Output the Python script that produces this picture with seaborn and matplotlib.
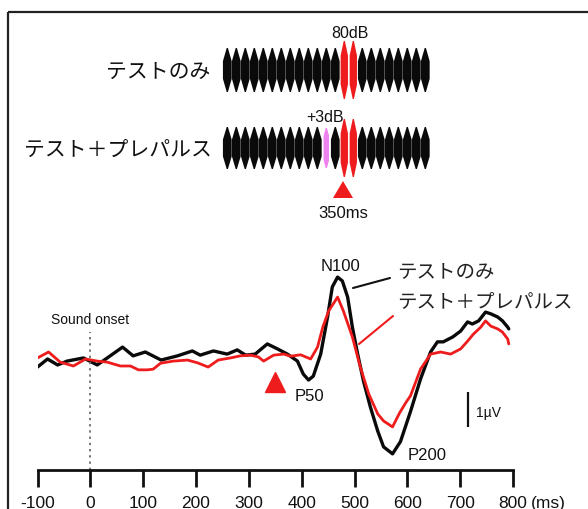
import numpy as np
import pandas as pd
import matplotlib
matplotlib.use("Agg")
import matplotlib.pyplot as plt
from matplotlib.patches import Polygon
import seaborn as sns

# ---------------- data ----------------
black_t = [-100, -81, -62, -44, -13, 13, 32, 61, 81, 104, 134, 165, 193, 208, 233, 259, 278, 294,
           312, 335, 354, 373, 392, 403, 413, 422, 436, 449, 458, 468, 477, 487, 496, 506, 517,
           530, 544, 555, 572, 587, 606, 625, 644, 657, 668, 686, 701, 714, 723, 735, 748, 758,
           771, 780, 790, 792]
black_v = [0.23, 0.0, 0.17, 0.06, -0.03, 0.17, -0.03, -0.34, -0.09, -0.2, 0.03, -0.09, -0.23, -0.11,
           -0.23, -0.14, -0.26, -0.11, -0.14, -0.43, -0.29, -0.14, 0.06, 0.43, 0.6, 0.49, -0.14,
           -1.2, -2.06, -2.34, -2.23, -1.77, -0.91, -0.14, 0.63, 1.37, 2.06, 2.51, 2.71, 2.36,
           1.5, 0.57, -0.2, -0.49, -0.49, -0.63, -0.8, -1.06, -1.0, -1.09, -1.34, -1.29, -1.2,
           -1.09, -0.91, -0.86]
red_t = [-100, -79, -57, -32, -9, 13, 32, 57, 76, 91, 108, 119, 133, 157, 184, 203, 223, 242, 265,
         284, 303, 318, 328, 347, 366, 379, 398, 417, 430, 440, 451, 468, 479, 496, 511, 527, 544,
         555, 572, 585, 597, 606, 625, 644, 663, 682, 701, 714, 725, 739, 748, 758, 771, 780, 790,
         792]
red_v = [-0.03, -0.2, 0.09, 0.2, 0.0, 0.06, 0.09, 0.2, 0.2, 0.31, 0.31, 0.29, 0.12, 0.06, 0.03,
         0.11, 0.23, 0.03, -0.03, -0.09, -0.11, -0.06, 0.06, -0.11, -0.14, -0.08, -0.12, 0.0,
         -0.34, -0.91, -1.37, -1.77, -1.37, -0.63, 0.23, 1.0, 1.57, 1.77, 1.94, 1.55, 1.25, 1.05,
         0.29, -0.14, -0.2, -0.14, -0.29, -0.51, -0.71, -0.91, -1.09, -0.94, -0.86, -0.77, -0.57,
         -0.43]
series_names = ["テストのみ", "テスト＋プレパルス"]
x_ticks = [-100, 0, 100, 200, 300, 400, 500, 600, 700, 800]
x_unit = "(ms)"
peak_labels = ["N100", "P50", "P200"]
pulse_count = 23
tone_idx = [13, 14]
prepulse_idx = 11
tone_label = "80dB"
prepulse_label = "+3dB"
onset_label = "Sound onset"
marker_label = "350ms"
marker_time = 350
scale_label = "1µV"

# ---------------- style ----------------
sns.set_theme(style="white")
plt.rcParams['font.family'] = ['Liberation Sans', 'Noto Sans CJK JP', 'DejaVu Sans']
JP = ['Noto Sans CJK JP', 'DejaVu Sans']
RED = '#ee1c1c'
BLACK = '#0a0a0a'

W, H = 588, 510
fig = plt.figure(figsize=(W / 100, H / 100), dpi=100)
fig.patch.set_facecolor('white')

# overlay axes in pixel coordinates
ov = fig.add_axes([0, 0, 1, 1])
ov.set_xlim(0, W)
ov.set_ylim(H, 0)
ov.axis('off')

# frame
ov.plot([8, W + 5], [13, 13], color='#222222', lw=1.6, solid_capstyle='butt')
ov.plot([8, 8], [13, H + 5], color='#222222', lw=1.6, solid_capstyle='butt')

# ---------------- stimulus diagram ----------------
x0, sp = 227.3, 9.0


def pulse(cx, cy, hh, hw, color, taper=0.6):
    ys = np.linspace(-1, 1, 61)
    prof = hw * np.clip((1 - np.abs(ys)) / taper, 0, 1) + 0.6
    xs = np.concatenate([cx + prof, (cx - prof)[::-1]])
    yy = np.concatenate([cy + ys * hh, (cy + ys * hh)[::-1]])
    ov.add_patch(Polygon(np.column_stack([xs, yy]), closed=True, facecolor=color,
                         edgecolor='none'))


for row, cy in enumerate([71, 149]):
    for k in range(pulse_count):
        cx = x0 + k * sp
        if k in tone_idx:
            pulse(cx, cy, 29, 0.34 * sp, RED, taper=0.5)
        elif row == 1 and k == prepulse_idx:
            pulse(cx, cy, 20, 0.24 * sp, '#ee82ee', taper=0.4)
        else:
            pulse(cx, cy, 22 if row == 0 else 21, 0.42 * sp, BLACK)

ov.text(210, 72, series_names[0], fontsize=15, family=JP, ha='right', va='center', color='#111')
ov.text(212, 150, series_names[1], fontsize=15, family=JP, ha='right', va='center', color='#111')
ov.text(350, 33, tone_label, fontsize=11.5, ha='center', va='center', color='#111')
ov.text(325, 117, prepulse_label, fontsize=11.5, ha='center', va='center', color='#111')
ov.add_patch(Polygon([[333, 199], [353, 199], [343, 182]], closed=True, facecolor=RED,
                     edgecolor='none'))
ov.text(343, 214, marker_label, fontsize=12, ha='center', va='center', color='#111')

# ---------------- waveform axes ----------------
px_per_unit = 35.0
base_y = 360.0
ax_left, ax_right = 37.5, 513.0
ax_top, ax_bottom = 250.0, 471.0
ax = fig.add_axes([ax_left / W, (H - ax_bottom) / H, (ax_right - ax_left) / W,
                   (ax_bottom - ax_top) / H])
ax.patch.set_alpha(0)

df = pd.concat([
    pd.DataFrame({'t': black_t, 'v': black_v, 'cond': series_names[0]}),
    pd.DataFrame({'t': red_t, 'v': red_v, 'cond': series_names[1]}),
])
sns.lineplot(data=df, x='t', y='v', hue='cond', palette=[BLACK, RED], estimator=None,
             sort=True, legend=False, ax=ax)
for line, lw in zip(ax.lines, [2.4, 2.0]):
    line.set_linewidth(lw)
    line.set_solid_joinstyle('round')
    line.set_solid_capstyle('round')
ax.lines[1].set_zorder(3)
ax.lines[0].set_zorder(2)

ax.set_xlim(-100, 800)
ax.set_ylim((ax_bottom - base_y) / px_per_unit, (ax_top - base_y) / px_per_unit)
ax.set_xticks(x_ticks)
ax.set_xticklabels([str(t) for t in x_ticks])
ax.set_yticks([])
ax.set_xlabel('')
ax.set_ylabel('')
for s in ['top', 'right', 'left']:
    ax.spines[s].set_visible(False)
ax.spines['bottom'].set_linewidth(2.0)
ax.spines['bottom'].set_color('#111')
ax.tick_params(axis='x', direction='out', length=12, width=2.0, color='#111',
               labelsize=12.5, pad=6, bottom=True, labelcolor='#111')

# sound onset dotted line
ax.axvline(0, ymin=0, ymax=(ax_bottom - 333) / (ax_bottom - ax_top), color='#777777',
           lw=1.4, ls=(0, (1.2, 2.0)))
ov.text(90, 320, onset_label, fontsize=10, ha='center', va='center', color='#111')

# red marker at 350 ms
ax.plot([marker_time], [(383 - base_y) / px_per_unit], marker='^', ms=15, color=RED,
        ls='none', clip_on=False)

# scale bar (1 unit)
sb_t = (468 - 90) / 0.5283
ax.plot([sb_t, sb_t], [(393 - base_y) / px_per_unit, (393 - base_y) / px_per_unit + 1.0],
        color='#111', lw=1.6, solid_capstyle='butt')
ov.text(476, 413, scale_label, fontsize=10, ha='left', va='center', color='#111')

# peak labels
ov.text(341, 267, peak_labels[0], fontsize=12, ha='center', va='center', color='#111')
ov.text(309, 397, peak_labels[1], fontsize=12, ha='center', va='center', color='#111')
ov.text(427, 456, peak_labels[2], fontsize=12, ha='center', va='center', color='#111')

# legend leaders and labels
ov.plot([353, 390], [289, 279], color='#111', lw=1.5)
ov.plot([359, 393], [345, 317], color=RED, lw=1.5)
ov.text(397, 272, series_names[0], fontsize=14, family=JP, ha='left', va='center', color='#222')
ov.text(397, 302, series_names[1], fontsize=14, family=JP, ha='left', va='center', color='#222')

# unit label
ov.text(531, 496, x_unit, fontsize=12.5, ha='left', va='top', color='#111')

fig.savefig('out.png', dpi=100)
